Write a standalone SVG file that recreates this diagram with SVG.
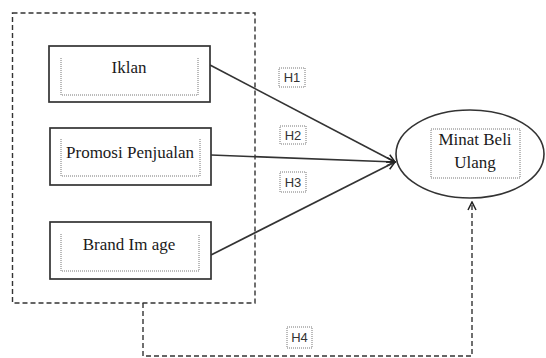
<svg xmlns="http://www.w3.org/2000/svg" width="546" height="358" viewBox="0 0 546 358">
<style>
.box{fill:#fff;stroke:#333;stroke-width:1.7}
.inner{fill:none;stroke:#777;stroke-width:1;stroke-dasharray:1 1}
.lbl{font-family:"Liberation Serif",serif;font-size:17px;fill:#1a1a1a;text-anchor:middle}
.h{font-family:"Liberation Sans",sans-serif;font-size:13px;fill:#333;text-anchor:middle}
.hbox{fill:#fff;stroke:#777;stroke-width:1;stroke-dasharray:1 1}
.line{stroke:#333;stroke-width:1.6;fill:none}
.dash{stroke:#333;stroke-width:1.4;fill:none;stroke-dasharray:5 3}
</style>
<defs>
<marker id="arr" markerWidth="10" markerHeight="10" refX="9" refY="5" orient="auto" markerUnits="userSpaceOnUse">
<path d="M1,1 L9,5 L1,9" fill="none" stroke="#222" stroke-width="1.5"/>
</marker>
</defs>
<g id="group-box">
<rect x="12.5" y="13" width="242.5" height="290" class="dash"/>
</g>
<g id="connectors">
<line x1="210" y1="65" x2="395" y2="162" class="line" marker-end="url(#arr)"/>
<line x1="211" y1="155" x2="395" y2="162" class="line" marker-end="url(#arr)"/>
<line x1="211" y1="255" x2="395" y2="162" class="line" marker-end="url(#arr)"/>
<path d="M143,303 L143,356 L472,356 L472,202" class="dash" marker-end="url(#arr)"/>
</g>
<g id="node-iklan">
<rect x="49" y="46" width="161" height="56" class="box"/>
<path d="M61,58 L61,95 L198,95 L198,58" class="inner"/>
<text x="129" y="73" class="lbl">Iklan</text>
</g>
<g id="node-promosi">
<rect x="50" y="128" width="161" height="57" class="box"/>
<path d="M61,139 L61,176 L200,176 L200,139" class="inner"/>
<text x="130" y="158" class="lbl">Promosi Penjualan</text>
</g>
<g id="node-brand">
<rect x="50" y="222" width="161" height="57" class="box"/>
<path d="M61,234 L61,271 L199,271 L199,234" class="inner"/>
<text x="129" y="250" class="lbl">Brand Im age</text>
</g>
<g id="node-minat">
<ellipse cx="470" cy="154" rx="74" ry="44" fill="#fff" stroke="#333" stroke-width="1.6"/>
<rect x="431" y="129" width="89" height="49" class="inner"/>
<text x="475" y="145" class="lbl">Minat Beli</text>
<text x="475" y="168" class="lbl">Ulang</text>
</g>
<g id="label-h1">
<rect x="279" y="68" width="26" height="19" class="hbox"/>
<text x="292" y="82" class="h">H1</text>
</g>
<g id="label-h2">
<rect x="280" y="126" width="26" height="18" class="hbox"/>
<text x="293" y="140" class="h">H2</text>
</g>
<g id="label-h3">
<rect x="280" y="172" width="26" height="20" class="hbox"/>
<text x="293" y="187" class="h">H3</text>
</g>
<g id="label-h4">
<rect x="287" y="327" width="25" height="21" class="hbox"/>
<text x="299.5" y="342" class="h">H4</text>
</g>
</svg>
